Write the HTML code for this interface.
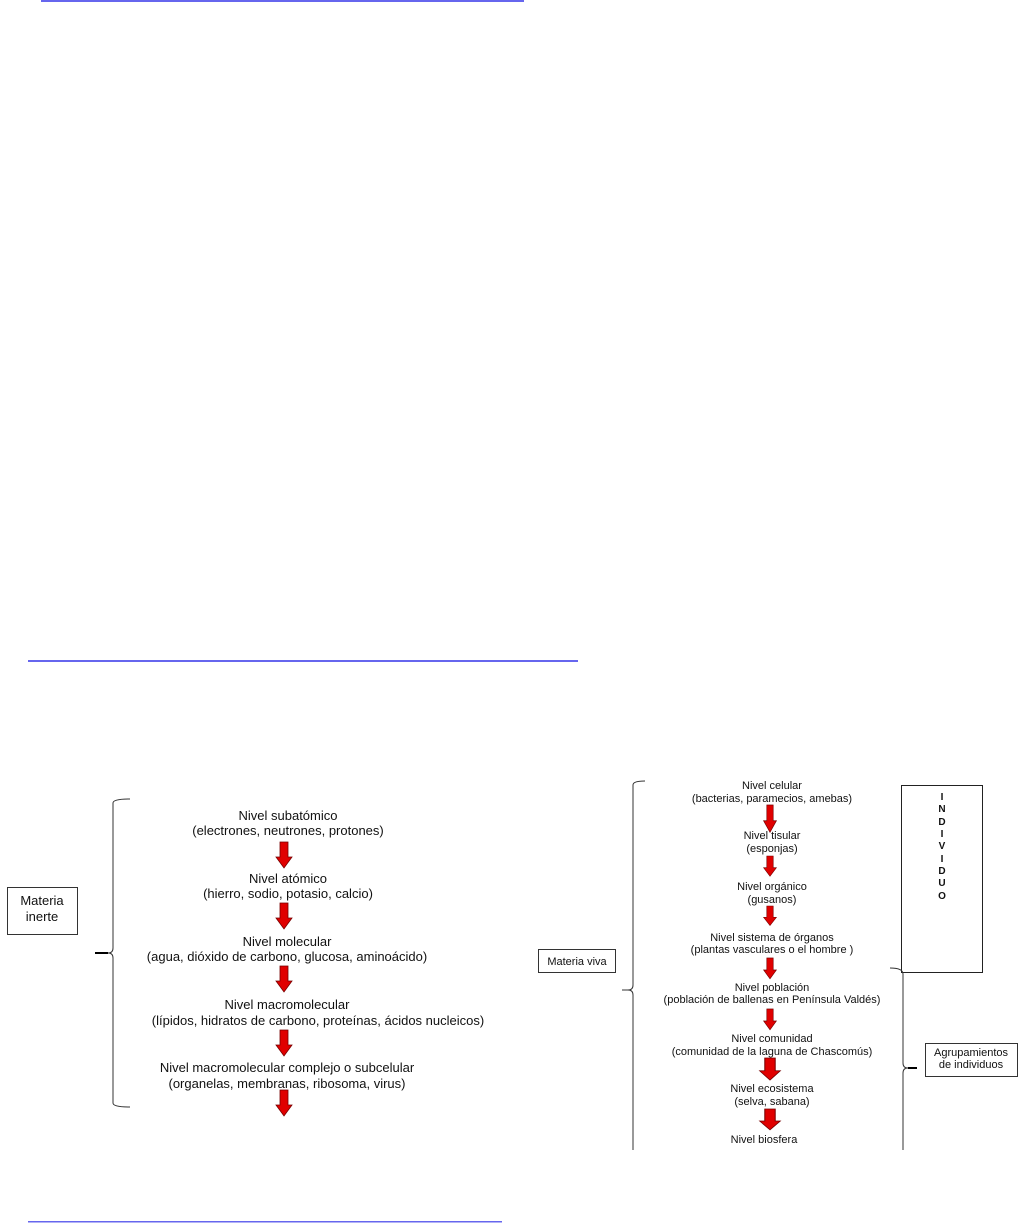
<!DOCTYPE html>
<html><head><meta charset="utf-8"><style>
html,body{margin:0;padding:0;background:#fff;}
svg{display:block;}
text{font-family:"Liberation Sans",Arial,sans-serif;fill:#111;}
</style></head><body>
<svg width="1026" height="1224" viewBox="0 0 1026 1224" xmlns="http://www.w3.org/2000/svg">
<defs>
<g id="ar"><path d="M-4,0 H4 V15 H8 L0,26 L-8,15 H-4 Z" fill="#e00000" stroke="#700" stroke-width="0.8"/></g>
</defs>
<!-- blue rules -->
<rect x="41" y="0" width="483" height="2" fill="#6666ee"/>
<rect x="28" y="660" width="550" height="2" fill="#6666ee"/>
<rect x="28" y="1221" width="474" height="1.5" fill="#6666ee"/>

<!-- left diagram -->
<rect x="7.5" y="887.5" width="70" height="47" fill="none" stroke="#333" stroke-width="1"/>
<text x="42" y="905" font-size="13" text-anchor="middle">Materia</text>
<text x="42" y="921" font-size="13" text-anchor="middle">inerte</text>
<path d="M130,799 Q113,799 113,803 V948 Q113,953 108,953 H95 M108,953 Q113,953 113,958 V1103 Q113,1107 130,1107" fill="none" stroke="#333" stroke-width="1"/>
<path d="M95,953 H108" stroke="#000" stroke-width="2"/>
<g font-size="13" text-anchor="middle">
<text x="288" y="820">Nivel subatómico</text>
<text x="288" y="835">(electrones, neutrones, protones)</text>
<text x="288" y="883">Nivel atómico</text>
<text x="288" y="898">(hierro, sodio, potasio, calcio)</text>
<text x="287" y="946">Nivel molecular</text>
<text x="287" y="961">(agua, dióxido de carbono, glucosa, aminoácido)</text>
<text x="287" y="1009">Nivel macromolecular</text>
<text x="318" y="1025">(lípidos, hidratos de carbono, proteínas, ácidos nucleicos)</text>
<text x="287" y="1072">Nivel macromolecular complejo o subcelular</text>
<text x="287" y="1088">(organelas, membranas, ribosoma, virus)</text>
</g>
<use href="#ar" x="284" y="842"/>
<use href="#ar" x="284" y="903"/>
<use href="#ar" x="284" y="966"/>
<use href="#ar" x="284" y="1030"/>
<use href="#ar" x="284" y="1090"/>

<!-- right diagram -->
<path d="M645,781 Q633,781 633,785 V985 Q633,990 628,990 H622 M628,990 Q633,990 633,995 V1150" fill="none" stroke="#333" stroke-width="1"/>
<rect x="538.5" y="949.5" width="77" height="23" fill="none" stroke="#333" stroke-width="1"/>
<text x="577" y="965" font-size="11" text-anchor="middle">Materia viva</text>
<rect x="901.5" y="785.5" width="81" height="187" fill="none" stroke="#222" stroke-width="1"/>
<g font-size="10" font-weight="bold" text-anchor="middle">
<text x="942" y="800">I</text><text x="942" y="812">N</text><text x="942" y="825">D</text>
<text x="942" y="837">I</text><text x="942" y="849">V</text><text x="942" y="862">I</text>
<text x="942" y="874">D</text><text x="942" y="886">U</text><text x="942" y="899">O</text>
</g>
<path d="M890,968 Q903,968 903,974 V1063 Q903,1068 908,1068 H917 M908,1068 Q903,1068 903,1073 V1150" fill="none" stroke="#333" stroke-width="1"/>
<path d="M908,1068 H917" stroke="#000" stroke-width="2"/>
<rect x="925.5" y="1043.5" width="92" height="33" fill="none" stroke="#333" stroke-width="1"/>
<text x="971" y="1056" font-size="11" text-anchor="middle">Agrupamientos</text>
<text x="971" y="1068" font-size="11" text-anchor="middle">de individuos</text>
<g font-size="11" text-anchor="middle">
<text x="772" y="789">Nivel celular</text>
<text x="772" y="802">(bacterias, paramecios, amebas)</text>
<text x="772" y="839">Nivel tisular</text>
<text x="772" y="852">(esponjas)</text>
<text x="772" y="890">Nivel orgánico</text>
<text x="772" y="903">(gusanos)</text>
<text x="772" y="941">Nivel sistema de órganos</text>
<text x="772" y="953">(plantas vasculares o el hombre )</text>
<text x="772" y="991">Nivel población</text>
<text x="772" y="1003">(población de ballenas en Península Valdés)</text>
<text x="772" y="1042">Nivel comunidad</text>
<text x="772" y="1055">(comunidad de la laguna de Chascomús)</text>
<text x="772" y="1092">Nivel ecosistema</text>
<text x="772" y="1105">(selva, sabana)</text>
<text x="764" y="1143">Nivel biosfera</text>
</g>
<g transform="translate(770,805) scale(0.8,1.05)"><use href="#ar"/></g>
<g transform="translate(770,856) scale(0.8,0.78)"><use href="#ar"/></g>
<g transform="translate(770,906) scale(0.8,0.75)"><use href="#ar"/></g>
<g transform="translate(770,958) scale(0.8,0.8)"><use href="#ar"/></g>
<g transform="translate(770,1009) scale(0.8,0.8)"><use href="#ar"/></g>
<g transform="translate(770,1058) scale(1.3,0.85)"><use href="#ar"/></g>
<g transform="translate(770,1109) scale(1.3,0.8)"><use href="#ar"/></g>
</svg>
</body></html>
